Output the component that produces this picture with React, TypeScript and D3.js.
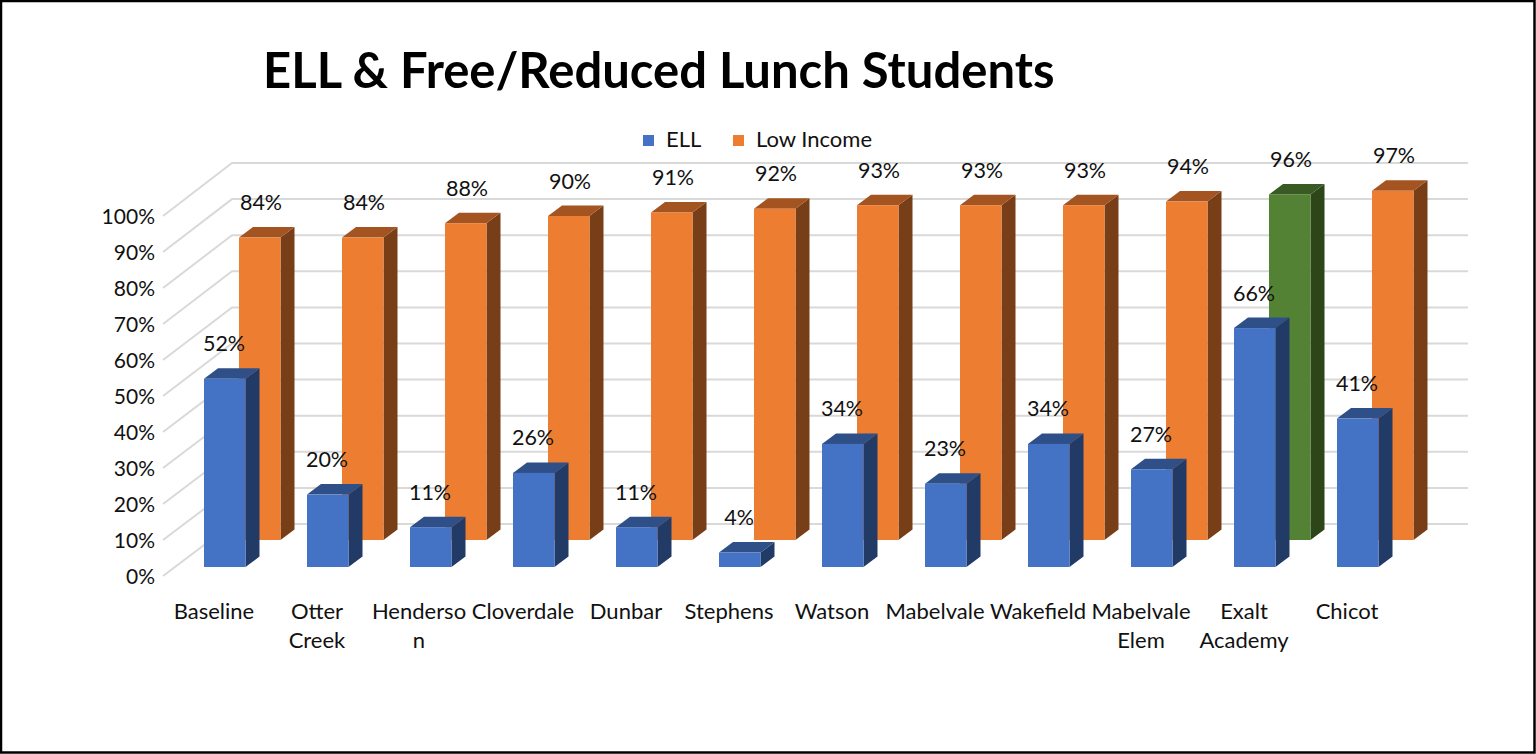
import React from "react";
import * as d3 from "d3";

const categories = ["Baseline", "Otter Creek", "Henderson", "Cloverdale", "Dunbar", "Stephens", "Watson", "Mabelvale", "Wakefield", "Mabelvale Elem", "Exalt Academy", "Chicot"];
const categoryLines = [["Baseline"], ["Otter", "Creek"], ["Henderso", "n"], ["Cloverdale"], ["Dunbar"], ["Stephens"], ["Watson"], ["Mabelvale"], ["Wakefield"], ["Mabelvale", "Elem"], ["Exalt", "Academy"], ["Chicot"]];
const ell = [52, 20, 11, 26, 11, 4, 34, 23, 34, 27, 66, 41];
const lowIncome = [84, 84, 88, 90, 91, 92, 93, 93, 93, 94, 96, 97];
const ticks = [0, 10, 20, 30, 40, 50, 60, 70, 80, 90, 100];
const highlighted = "Exalt Academy";

const W = 1536, H = 754;
const FONT = "Lato, Carlito, Calibri, sans-serif";
const dx = 14, dy = -10.5, barW = 41.5;
const BLUE = { front: "#4472C4", top: "#2E4F87", side: "#223A66" };
const ORANGE = { front: "#ED7D31", top: "#A35421", side: "#783E17" };
const GREEN = { front: "#548235", top: "#3A5A24", side: "#2C4519" };

const xIndex = d3.scaleLinear().domain([0, 11]).range([0, 1133]);
const yBlue = d3.scaleLinear().domain([0, 100]).range([567, 205]);
const yOrange = d3.scaleLinear().domain([0, 100]).range([540, 180]);
const yBack = d3.scaleLinear().domain([0, 100]).range([524, 163]);
const yFront = d3.scaleLinear().domain([0, 100]).range([576, 216]);

function poly(pts: [number, number][]) {
  return (d3.line()(pts) as string) + "Z";
}

function Bar({ x, y0, y1, c }: { x: number; y0: number; y1: number; c: typeof BLUE }) {
  const x1 = x + barW;
  return (
    <g>
      <path d={poly([[x1, y1], [x1 + dx, y1 + dy], [x1 + dx, y0 + dy], [x1, y0]])} fill={c.side} />
      <path d={poly([[x, y1], [x + dx, y1 + dy], [x1 + dx, y1 + dy], [x1, y1]])} fill={c.top} />
      <rect x={x} y={y1} width={barW} height={y0 - y1} fill={c.front} />
    </g>
  );
}

export default function App() {
  return (
    <svg width={W} height={H} style={{ position: "absolute", left: 0, top: 0, background: "#fff" }} fontFamily={FONT}>
      <rect x={1} y={1} width={1533.5} height={751.5} fill="#fff" stroke="#000" strokeWidth={2.5} />
      <text x={263} y={88} fontSize={49} fontWeight={700} fill="#000">ELL &amp; Free/Reduced Lunch Students</text>

      <rect x={643} y={135} width={11} height={11} fill={BLUE.front} />
      <text x={666} y={147} fontSize={22} fill="#111">ELL</text>
      <rect x={733} y={135} width={11} height={11} fill={ORANGE.front} />
      <text x={756} y={147} fontSize={22} fill="#111">Low Income</text>

      {ticks.map((t) => (
        <g key={t}>
          <path d={d3.line()([[163, yFront(t)], [232, yBack(t)], [1468, yBack(t)]]) as string} fill="none" stroke="#D9D9D9" strokeWidth={2} />
          <text x={155} y={yFront(t) + 1} dy="0.35em" textAnchor="end" fontSize={21} fill="#111">{t}%</text>
        </g>
      ))}

      {categories.map((name, i) => (
        <Bar key={name} x={239 + xIndex(i)} y0={yOrange(0)} y1={yOrange(lowIncome[i])} c={name === highlighted ? GREEN : ORANGE} />
      ))}
      {categories.map((name, i) => (
        <Bar key={name} x={204 + xIndex(i)} y0={yBlue(0)} y1={yBlue(ell[i])} c={BLUE} />
      ))}

      {categories.map((name, i) => (
        <g key={name} fontSize={21.5} fill="#111" textAnchor="middle">
          <text x={261 + xIndex(i)} y={yOrange(lowIncome[i]) - 35} dy="0.35em">{lowIncome[i]}%</text>
          <text x={224 + xIndex(i)} y={yBlue(ell[i]) - 35} dy="0.35em">{ell[i]}%</text>
        </g>
      ))}

      {categories.map((name, i) => (
        <g key={name} fontSize={22} fill="#111" textAnchor="middle">
          {categoryLines[i].map((line, j) => (
            <text key={line} x={214 + xIndex(i) + (i === 2 ? -1 : 0)} y={611 + j * 29} dy="0.35em">{line}</text>
          ))}
        </g>
      ))}
    </svg>
  );
}
